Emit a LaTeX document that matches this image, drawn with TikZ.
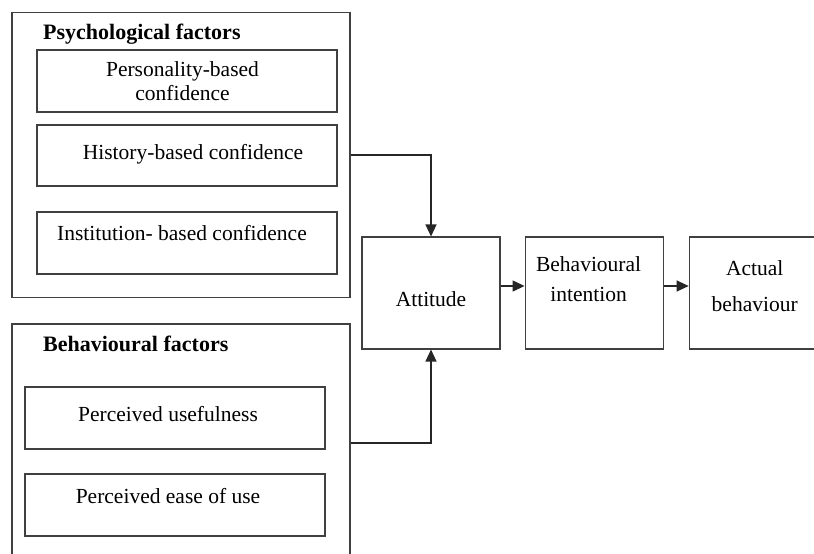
\documentclass[tikz,border=0pt]{standalone}
\usepackage{fontspec}
\setmainfont{Liberation Serif}
\usetikzlibrary{arrows.meta,positioning}

\begin{document}
\begin{tikzpicture}[x=1pt, y=-1pt,
	font=\fontsize{21.5}{24}\selectfont,
	box/.style={draw=black!75, line width=1.1pt, inner sep=0pt},
	txt/.style={align=center, inner sep=0pt},
	title/.style={font=\bfseries\fontsize{22}{26}\selectfont, inner sep=0pt, anchor=base west},
	flow/.style={-{Triangle[length=12pt,width=11pt]}, line width=1.3pt, black!85}]
		%%%%% FRAME %%%%%
		\useasboundingbox (0,0) rectangle (814,554);
		\clip (0,0) rectangle (814,554);
		
		%%%%% PSYCHOLOGICAL FACTORS %%%%%
		\node[box, minimum width=338pt, minimum height=285pt] (psych) at (181,155) {};
		\node[title] (psychtitle) at (43,39) {Psychological factors};
		
		\node[box, minimum width=300pt, minimum height=62pt] (pers) at (187,81) {};
		\node[txt] (perstext) at ([xshift=-4.5pt]pers.center) {Personality-based\\confidence};
		\node[box, minimum width=300pt, minimum height=61pt] (hist) at (187,155.5) {};
		\node[txt] (histtext) at ([xshift=6pt,yshift=1pt]hist.center) {History-based confidence};
		\node[box, minimum width=300pt, minimum height=62pt] (inst) at (187,243) {};
		\node[txt] (insttext) at ([xshift=-5pt,yshift=10pt]inst.center) {Institution-\ based confidence};
		
		%%%%% BEHAVIOURAL FACTORS %%%%%
		\node[box, minimum width=338pt, minimum height=238pt] (beh) at (181,443) {};
		\node[title] (behtitle) at (43,351) {Behavioural factors};
		
		\node[box, minimum width=300pt, minimum height=62pt] (pu) at (175,418) {};
		\node[txt] (putext) at ([xshift=-7pt,yshift=4pt]pu.center) {Perceived usefulness};
		\node[box, minimum width=300pt, minimum height=62pt] (peou) at (175,505) {};
		\node[txt] (peoutext) at ([xshift=-7pt,yshift=9pt]peou.center) {Perceived ease of use};
		
		%%%%% CHAIN %%%%%
		\node[box, minimum width=138pt, minimum height=112pt] (att) at (431,293) {};
		\node[txt] (atttext) at ([yshift=-6pt]att.center) {Attitude};
		\node[box, minimum width=138pt, minimum height=112pt, right=24pt of att] (bi) {};
		\node[txt] (bitext) at ([xshift=-5.5pt,yshift=14pt]bi.center) {Behavioural\\[6pt]intention};
		\node[box, minimum width=130pt, minimum height=112pt, right=25pt of bi] (ab) {};
		\node[txt] (abtext) at ([xshift=0.5pt,yshift=7pt]ab.center) {Actual\\[12pt]behaviour};
		
		%%%%% ARROWS %%%%%
		\draw[flow] (psych.east) -| (att.north);
		\draw[flow] (beh.east) -| (att.south);
		\draw[flow] ([yshift=7pt]att.east) -- ([yshift=7pt]bi.west);
		\draw[flow] ([yshift=7pt]bi.east) -- ([yshift=7pt]ab.west);
		
		%%%%% END %%%%%
	\end{tikzpicture}
\end{document}
